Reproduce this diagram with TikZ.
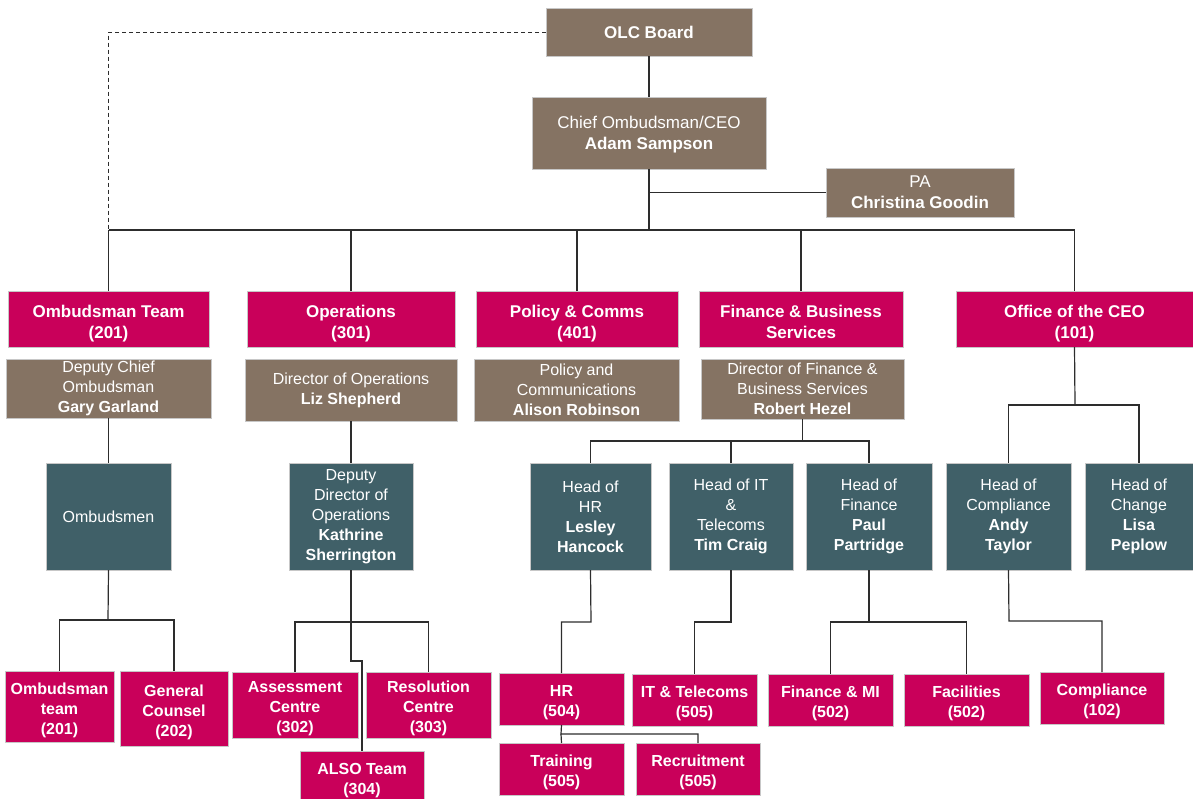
\documentclass[tikz,border=0pt]{standalone}
\usepackage{fontspec}
\setmainfont{Liberation Sans}
\definecolor{brn}{RGB}{133,115,99}
\definecolor{mag}{RGB}{201,0,90}
\definecolor{tea}{RGB}{64,96,104}
\definecolor{ln}{RGB}{45,45,45}
\newcommand{\bx}[7]{\node[#1, anchor=north west, minimum width={(#5-#3)*1pt}, minimum height={(#6-#4)*1pt}] (#2) at (#3,#4) {#7};}
\newcommand{\bxs}[8]{\node[#1, anchor=north west, minimum width={(#5-#3)*1pt}, minimum height={(#6-#4)*1pt}] (#2) at (#3,#4) {\raisebox{#8}[\height][\depth]{\begin{tabular}{@{}c@{}}#7\end{tabular}}};}
\tikzset{
  box/.style={inner sep=1pt, outer sep=0pt, align=center, text=white, draw=white!78!black, line width=0.6pt},
  brownbox/.style={box, fill=brn, font=\fontsize{16}{20}\selectfont},
  topbox/.style={box, fill=brn, font=\fontsize{17}{21}\selectfont},
  deptbox/.style={box, fill=mag, font=\bfseries\fontsize{17}{21}\selectfont},
  tealbox/.style={box, fill=tea, font=\fontsize{16}{20}\selectfont},
  unitbox/.style={box, fill=mag, font=\bfseries\fontsize{16}{20}\selectfont},
  conn/.style={draw=ln, line width=1.2pt},
  dconn/.style={draw=ln, line width=1pt, dash pattern=on 4pt off 3pt}
}
\begin{document}
\begin{tikzpicture}[x=1pt,y=-1pt]
\useasboundingbox (0,0) rectangle (1193,798);
% top
\bx{topbox}{olc}{546}{8}{752}{56}{\textbf{OLC Board}}
\bxs{topbox}{ceo}{532}{97}{766}{169}{Chief Ombudsman/CEO\\\textbf{Adam Sampson}}{-1.5pt}
\bx{topbox}{pa}{826}{168}{1014}{217}{PA\\\textbf{Christina Goodin}}
% departments
\bxs{deptbox}{ombteam}{8}{291}{209}{347}{Ombudsman Team\\(201)}{-4.5pt}
\bxs{deptbox}{ops}{247}{291}{455}{347}{Operations\\(301)}{-4.5pt}
\bxs{deptbox}{pol}{476}{291}{678}{347}{Policy \& Comms\\(401)}{-4.5pt}
\bxs{deptbox}{fin}{699}{291}{903}{347}{Finance \& Business\\Services}{-4.5pt}
\bxs{deptbox}{office}{956}{291}{1193}{347}{Office of the CEO\\(101)}{-4.5pt}
% directors
\bx{brownbox}{depchief}{6}{359}{211}{418}{Deputy Chief\\Ombudsman\\\textbf{Gary Garland}}
\bx{brownbox}{dirops}{245}{359}{457}{421}{Director of Operations\\\textbf{Liz Shepherd}}
\bx{brownbox}{dirpol}{474}{359}{679}{421}{Policy and\\Communications\\\textbf{Alison Robinson}}
\bx{brownbox}{dirfin}{701}{359}{904}{419}{Director of Finance \&\\Business Services\\\textbf{Robert Hezel}}
% heads
\bx{tealbox}{ombudsmen}{46}{463}{171}{570}{Ombudsmen}
\bx{tealbox}{depdir}{289}{463}{413}{570}{Deputy\\Director of\\Operations\\\textbf{Kathrine}\\\textbf{Sherrington}}
\bx{tealbox}{hhr}{530}{463}{651}{570}{Head of\\HR\\\textbf{Lesley}\\\textbf{Hancock}}
\bx{tealbox}{hit}{669}{463}{793}{570}{Head of IT\\\&\\Telecoms\\\textbf{Tim Craig}}
\bx{tealbox}{hfin}{806}{463}{932}{570}{Head of\\Finance\\\textbf{Paul}\\\textbf{Partridge}}
\bx{tealbox}{hcomp}{946}{463}{1071}{570}{Head of\\Compliance\\\textbf{Andy}\\\textbf{Taylor}}
\bx{tealbox}{hchange}{1085}{463}{1193}{570}{Head of\\Change\\\textbf{Lisa}\\\textbf{Peplow}}
% units
\bxs{unitbox}{omteam}{5}{671}{114}{742}{Ombudsman\\team\\(201)}{-3.5pt}
\bxs{unitbox}{gc}{120}{671}{228}{746}{General\\Counsel\\(202)}{-3.5pt}
\bxs{unitbox}{assess}{232}{672}{358}{738}{Assessment\\Centre\\(302)}{-3.5pt}
\bxs{unitbox}{resol}{366}{672}{491}{738}{Resolution\\Centre\\(303)}{-3.5pt}
\bxs{unitbox}{also}{300}{751}{424}{802}{ALSO Team\\(304)}{-3.5pt}
\bxs{unitbox}{hr}{499}{673}{624}{725}{HR\\(504)}{-3.5pt}
\bxs{unitbox}{train}{499}{743}{624}{795}{Training\\(505)}{-3.5pt}
\bxs{unitbox}{recr}{636}{743}{760}{795}{Recruitment\\(505)}{-3.5pt}
\bxs{unitbox}{itt}{632}{674}{757}{726}{IT \& Telecoms\\(505)}{-3.5pt}
\bxs{unitbox}{finmi}{768}{674}{893}{726}{Finance \& MI\\(502)}{-3.5pt}
\bxs{unitbox}{facil}{904}{674}{1029}{726}{Facilities\\(502)}{-3.5pt}
\bxs{unitbox}{comp}{1040}{672}{1164}{724}{Compliance\\(102)}{-3.5pt}
% junction coordinates
\coordinate (bus) at (650,230);
\coordinate (oj) at (1075,405);
\coordinate (fj) at (803,441);
\coordinate (oj2) at (108,620);
\coordinate (dj) at (351,622);
\coordinate (aj) at (351,661);
\coordinate (hj) at (591,622);
\coordinate (tj) at (561,734);
\coordinate (ij) at (731,622);
\coordinate (fj2) at (869,622);
\coordinate (cj) at (1009,621);
% connectors
\draw[dconn] (olc.west) -| (ombteam.north |- bus);
\draw[conn] (olc.south) -- (olc.south |- ceo.north);
\draw[conn] (olc.south |- ceo.south) -- (olc.south |- bus);
\draw[conn] (pa.west) -- (pa.west -| olc.south);
\draw[conn] (ombteam.north |- bus) -- (office.north |- bus);
\foreach \n in {ombteam,ops,pol,fin,office} \draw[conn] (\n.north) -- (\n.north |- bus);
\draw[conn] (depchief.south) -- (ombudsmen.north);
\draw[conn] (dirops.south) -- (depdir.north);
\draw[conn] (office.south) -- (oj);
\draw[conn] (hcomp.north) |- (oj) -| (hchange.north);
\draw[conn] (dirfin.south) -- (dirfin.south |- fj);
\draw[conn] (hhr.north) |- (fj) -| (hfin.north);
\draw[conn] (hit.north) -- (hit.north |- fj);
\draw[conn] (ombudsmen.south) -- (oj2);
\draw[conn] (omteam.north) |- (oj2) -| (gc.north);
\draw[conn] (depdir.south) -- (dj);
\draw[conn] (assess.north) |- (dj) -| (resol.north);
\draw[conn] (dj) -- (aj) -| (also.north);
\draw[conn] (hhr.south) -- (hj) -| (hr.north);
\draw[conn] (hr.south) -- (tj) -| (recr.north);
\draw[conn] (tj) -- (train.north);
\draw[conn] (hit.south) -- (ij) -| (itt.north);
\draw[conn] (hfin.south) -- (fj2);
\draw[conn] (finmi.north) |- (fj2) -| (facil.north);
\draw[conn] (hcomp.south) -- (cj) -| (comp.north);
\end{tikzpicture}
\end{document}
